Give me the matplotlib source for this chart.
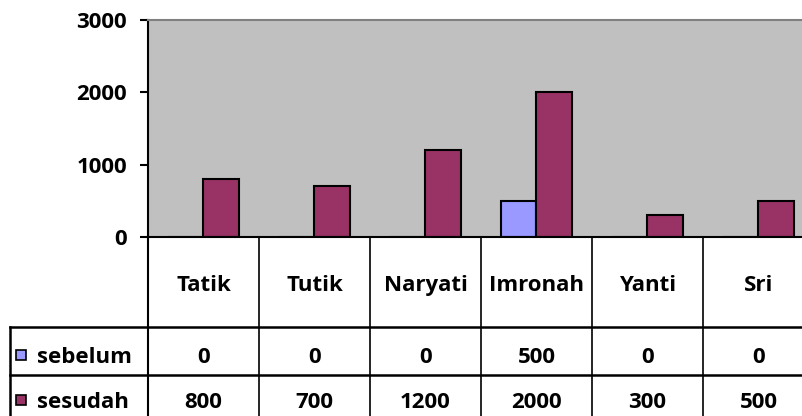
import matplotlib
matplotlib.use('Agg')
import matplotlib.pyplot as plt
from matplotlib import transforms

# data
names   = ['Tatik', 'Tutik', 'Naryati', 'Imronah', 'Yanti', 'Sri']
sebelum = [0, 0, 0, 500, 0, 0]
sesudah = [800, 700, 1200, 2000, 300, 500]
series  = ['sebelum', 'sesudah']
colors  = ['#9999FF', '#993366']
yticks  = [0, 1000, 2000, 3000]

plt.rcParams['font.family'] = ['Open Sans', 'DejaVu Sans']
plt.rcParams['font.weight'] = 'bold'
FS = 16

W, H = 803, 416
fig = plt.figure(figsize=(W / 100, H / 100), dpi=100)
fig.patch.set_facecolor('white')

# plot area in pixels: x 148..814 (runs past right edge), y 20..237
ax = fig.add_axes([148 / W, (H - 237) / H, 666 / W, 217 / H])
ax.set_facecolor('#C0C0C0')
ax.set_xlim(-0.5, len(names) - 0.5)
ax.set_ylim(0, 3000)

x = list(range(len(names)))
bw = 0.324
ax.bar([i - bw / 2 for i in x], sebelum, width=bw, color=colors[0],
       edgecolor='black', linewidth=1.5)
ax.bar([i + bw / 2 for i in x], sesudah, width=bw, color=colors[1],
       edgecolor='black', linewidth=1.5)

ax.set_yticks(yticks)
ax.set_yticklabels([str(v) for v in yticks], fontsize=FS, fontweight='bold')
ax.tick_params(axis='y', length=6, width=1.5, pad=9)
ax.set_xticks([])
ax.spines['left'].set_linewidth(1.5)
ax.spines['bottom'].set_linewidth(1.5)
ax.spines['top'].set_color('#808080')
ax.spines['top'].set_linewidth(1.5)
ax.spines['right'].set_visible(False)

# data table below the plot, x in data units, y in axes units
tr = transforms.blended_transform_factory(ax.transData, ax.transAxes)
px2x = lambda px: (px - 148) / 111 - 0.5
py2y = lambda py: -(py - 237) / 217
left = px2x(10)
y_head = py2y(327)
y_row1 = py2y(375)
y_row2 = py2y(422)

lk = dict(color='black', transform=tr, clip_on=False)
for b in range(len(names) + 1):
    bx = b - 0.5
    ax.plot([bx, bx], [0, y_row2], lw=1.5 if b == 0 else 1.2, **lk)
ax.plot([left, left], [y_head, y_row2], lw=1.8, **lk)
for yy in [y_head, y_row1, y_row2]:
    ax.plot([left, len(names) - 0.5], [yy, yy], lw=1.8, **lk)

for i, n in enumerate(names):
    ax.text(i, py2y(291), n, transform=tr, ha='center', va='baseline',
            fontsize=FS, fontweight='bold')

rows = [sebelum, sesudah]
row_base = [py2y(363), py2y(408)]
for r, (vals, yy) in enumerate(zip(rows, row_base)):
    for i, v in enumerate(vals):
        ax.text(i, yy, str(v), transform=tr, ha='center', va='baseline',
                fontsize=FS, fontweight='bold')
    ax.plot([px2x(21)], [yy + 0.038], marker='s', markersize=7, color=colors[r],
            markeredgecolor='black', markeredgewidth=1.2, transform=tr, clip_on=False)
    ax.text(px2x(37), yy, series[r], transform=tr, ha='left', va='baseline',
            fontsize=FS, fontweight='bold')

fig.savefig('out.png', dpi=100, facecolor='white')
